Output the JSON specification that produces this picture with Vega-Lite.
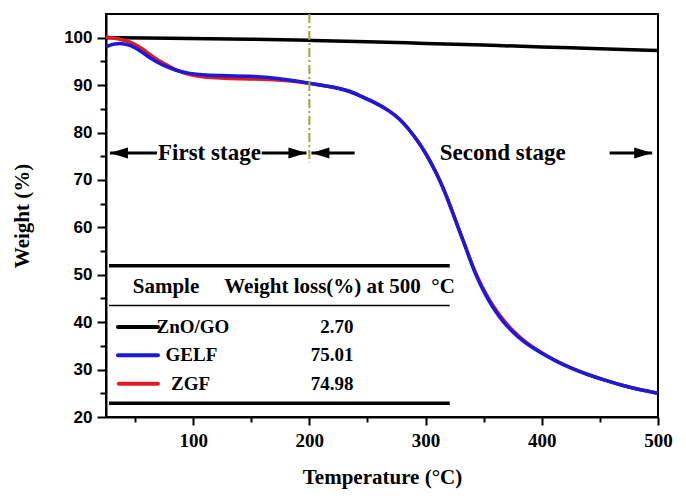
{
  "$schema": "https://vega.github.io/schema/vega-lite/v6.json",
  "width": 552,
  "height": 403,
  "autosize": "none",
  "padding": {"left": 106, "top": 14, "right": 28, "bottom": 82},
  "background": "#ffffff",
  "view": {"stroke": "#000000", "strokeWidth": 2},
  "config": {"font": "Liberation Serif"},
  "datasets": {
    "tga": [
      {"sample": "ZnO/GO", "t": 25, "w": 100.0},
      {"sample": "ZnO/GO", "t": 100, "w": 99.85},
      {"sample": "ZnO/GO", "t": 150, "w": 99.7},
      {"sample": "ZnO/GO", "t": 200, "w": 99.45},
      {"sample": "ZnO/GO", "t": 250, "w": 99.15},
      {"sample": "ZnO/GO", "t": 300, "w": 98.8},
      {"sample": "ZnO/GO", "t": 350, "w": 98.45},
      {"sample": "ZnO/GO", "t": 400, "w": 98.05},
      {"sample": "ZnO/GO", "t": 450, "w": 97.7},
      {"sample": "ZnO/GO", "t": 500, "w": 97.3},
      {"sample": "ZGF", "t": 25, "w": 100.1},
      {"sample": "ZGF", "t": 30, "w": 100.0},
      {"sample": "ZGF", "t": 35, "w": 99.8},
      {"sample": "ZGF", "t": 42, "w": 99.4},
      {"sample": "ZGF", "t": 49, "w": 98.8},
      {"sample": "ZGF", "t": 56, "w": 97.7},
      {"sample": "ZGF", "t": 63, "w": 96.4},
      {"sample": "ZGF", "t": 70, "w": 95.2},
      {"sample": "ZGF", "t": 77, "w": 94.3},
      {"sample": "ZGF", "t": 85, "w": 93.2},
      {"sample": "ZGF", "t": 95, "w": 92.3},
      {"sample": "ZGF", "t": 105, "w": 91.8},
      {"sample": "ZGF", "t": 115, "w": 91.6},
      {"sample": "ZGF", "t": 130, "w": 91.4},
      {"sample": "ZGF", "t": 150, "w": 91.3},
      {"sample": "ZGF", "t": 165, "w": 91.2},
      {"sample": "ZGF", "t": 180, "w": 91.0},
      {"sample": "ZGF", "t": 190, "w": 90.7},
      {"sample": "ZGF", "t": 200, "w": 90.4},
      {"sample": "ZGF", "t": 215, "w": 89.8},
      {"sample": "ZGF", "t": 226, "w": 89.3},
      {"sample": "ZGF", "t": 235, "w": 88.7},
      {"sample": "ZGF", "t": 243, "w": 87.8},
      {"sample": "ZGF", "t": 255, "w": 86.5},
      {"sample": "ZGF", "t": 269, "w": 84.6},
      {"sample": "ZGF", "t": 278, "w": 82.8},
      {"sample": "ZGF", "t": 286, "w": 80.6},
      {"sample": "ZGF", "t": 293, "w": 78.3},
      {"sample": "ZGF", "t": 300, "w": 75.7},
      {"sample": "ZGF", "t": 306, "w": 73.0},
      {"sample": "ZGF", "t": 312, "w": 70.1},
      {"sample": "ZGF", "t": 318, "w": 66.6},
      {"sample": "ZGF", "t": 323, "w": 63.3},
      {"sample": "ZGF", "t": 328, "w": 60.0},
      {"sample": "ZGF", "t": 332, "w": 57.5},
      {"sample": "ZGF", "t": 336, "w": 54.8},
      {"sample": "ZGF", "t": 340, "w": 52.2},
      {"sample": "ZGF", "t": 345, "w": 49.3},
      {"sample": "ZGF", "t": 350, "w": 46.8},
      {"sample": "ZGF", "t": 355, "w": 44.7},
      {"sample": "ZGF", "t": 360, "w": 42.7},
      {"sample": "ZGF", "t": 367, "w": 40.4},
      {"sample": "ZGF", "t": 375, "w": 38.2},
      {"sample": "ZGF", "t": 385, "w": 35.9},
      {"sample": "ZGF", "t": 398, "w": 33.8},
      {"sample": "ZGF", "t": 412, "w": 31.8},
      {"sample": "ZGF", "t": 426, "w": 30.2},
      {"sample": "ZGF", "t": 440, "w": 28.9},
      {"sample": "ZGF", "t": 455, "w": 27.7},
      {"sample": "ZGF", "t": 470, "w": 26.6},
      {"sample": "ZGF", "t": 485, "w": 25.7},
      {"sample": "ZGF", "t": 500, "w": 25.0},
      {"sample": "GELF", "t": 25, "w": 98.1},
      {"sample": "GELF", "t": 30, "w": 98.6},
      {"sample": "GELF", "t": 35, "w": 98.8},
      {"sample": "GELF", "t": 42, "w": 98.7},
      {"sample": "GELF", "t": 50, "w": 98.0},
      {"sample": "GELF", "t": 57, "w": 96.8},
      {"sample": "GELF", "t": 63, "w": 95.7},
      {"sample": "GELF", "t": 70, "w": 94.7},
      {"sample": "GELF", "t": 77, "w": 93.9},
      {"sample": "GELF", "t": 85, "w": 93.1},
      {"sample": "GELF", "t": 95, "w": 92.5},
      {"sample": "GELF", "t": 110, "w": 92.1},
      {"sample": "GELF", "t": 130, "w": 92.0},
      {"sample": "GELF", "t": 150, "w": 91.9},
      {"sample": "GELF", "t": 165, "w": 91.6},
      {"sample": "GELF", "t": 180, "w": 91.2},
      {"sample": "GELF", "t": 190, "w": 90.8},
      {"sample": "GELF", "t": 200, "w": 90.4},
      {"sample": "GELF", "t": 215, "w": 89.8},
      {"sample": "GELF", "t": 226, "w": 89.3},
      {"sample": "GELF", "t": 235, "w": 88.7},
      {"sample": "GELF", "t": 243, "w": 87.8},
      {"sample": "GELF", "t": 255, "w": 86.5},
      {"sample": "GELF", "t": 269, "w": 84.6},
      {"sample": "GELF", "t": 278, "w": 82.8},
      {"sample": "GELF", "t": 286, "w": 80.6},
      {"sample": "GELF", "t": 293, "w": 78.3},
      {"sample": "GELF", "t": 300, "w": 75.7},
      {"sample": "GELF", "t": 306, "w": 73.0},
      {"sample": "GELF", "t": 312, "w": 70.1},
      {"sample": "GELF", "t": 318, "w": 66.6},
      {"sample": "GELF", "t": 323, "w": 63.3},
      {"sample": "GELF", "t": 328, "w": 60.0},
      {"sample": "GELF", "t": 332, "w": 57.4},
      {"sample": "GELF", "t": 336, "w": 54.7},
      {"sample": "GELF", "t": 340, "w": 52.0},
      {"sample": "GELF", "t": 345, "w": 49.0},
      {"sample": "GELF", "t": 350, "w": 46.5},
      {"sample": "GELF", "t": 355, "w": 44.3},
      {"sample": "GELF", "t": 360, "w": 42.3},
      {"sample": "GELF", "t": 367, "w": 40.0},
      {"sample": "GELF", "t": 375, "w": 37.9},
      {"sample": "GELF", "t": 385, "w": 35.7},
      {"sample": "GELF", "t": 398, "w": 33.7},
      {"sample": "GELF", "t": 412, "w": 31.8},
      {"sample": "GELF", "t": 426, "w": 30.2},
      {"sample": "GELF", "t": 440, "w": 28.9},
      {"sample": "GELF", "t": 455, "w": 27.7},
      {"sample": "GELF", "t": 470, "w": 26.6},
      {"sample": "GELF", "t": 485, "w": 25.7},
      {"sample": "GELF", "t": 500, "w": 25.0}
    ],
    "divider": [{"t": 200, "w": 105, "w2": 73.7}],
    "arrowLines": [
      {"t": 28.4, "t2": 68.9, "w": 75.7},
      {"t": 159, "t2": 197.5, "w": 75.7},
      {"t": 201.8, "t2": 239, "w": 75.7},
      {"t": 458.4, "t2": 495, "w": 75.7}
    ],
    "arrowHeads": [
      {"t": 28.4, "w": 75.7, "dir": "left"},
      {"t": 197.5, "w": 75.7, "dir": "right"},
      {"t": 201.8, "w": 75.7, "dir": "left"},
      {"t": 495, "w": 75.7, "dir": "right"}
    ],
    "stages": [
      {"t": 114, "w": 75.7, "label": "First stage"},
      {"t": 366.4, "w": 75.7, "label": "Second stage"}
    ],
    "tableThick": [
      {"t": 27.6, "t2": 320.8, "w": 51.9},
      {"t": 27.6, "t2": 320.8, "w": 22.9}
    ],
    "tableThin": [{"t": 27.6, "t2": 320.8, "w": 43.5}],
    "keys": [
      {"sample": "ZnO/GO", "t": 35.3, "t2": 69.7, "w": 39.0},
      {"sample": "GELF", "t": 35.3, "t2": 69.7, "w": 33.0},
      {"sample": "ZGF", "t": 36, "t2": 69.7, "w": 27.0}
    ],
    "header": [
      {"t": 76.6, "w": 47.4, "label": "Sample"},
      {"t": 226, "w": 47.4, "label": "Weight loss(%) at 500 \u00a0°C"}
    ],
    "names": [
      {"t": 99.8, "w": 39.0, "label": "ZnO/GO"},
      {"t": 98.5, "w": 33.0, "label": "GELF"},
      {"t": 97.7, "w": 27.0, "label": "ZGF"}
    ],
    "losses": [
      {"t": 238, "w": 39.0, "label": "2.70"},
      {"t": 238, "w": 33.0, "label": "75.01"},
      {"t": 238, "w": 27.0, "label": "74.98"}
    ]
  },
  "encoding": {
    "x": {
      "field": "t",
      "type": "quantitative",
      "scale": {"domain": [25, 500], "nice": false, "zero": false},
      "axis": {
        "title": "Temperature (°C)",
        "values": [50, 100, 150, 200, 250, 300, 350, 400, 450, 500],
        "labelExpr": "datum.value % 100 === 0 ? datum.label : ''",
        "grid": false,
        "domainColor": "#000000",
        "domainWidth": 2,
        "tickColor": "#000000",
        "tickWidth": 2,
        "tickSize": {"condition": {"test": "datum.value % 100 === 0", "value": 8}, "value": 5},
        "labelFont": "Liberation Serif",
        "labelFontWeight": "bold",
        "labelFontSize": 19,
        "labelColor": "#000000",
        "labelPadding": 6,
        "labelFlush": false,
        "labelOverlap": false,
        "titleFont": "Liberation Serif",
        "titleFontWeight": "bold",
        "titleFontSize": 21,
        "titleColor": "#000000",
        "titlePadding": 16
      }
    },
    "y": {
      "field": "w",
      "type": "quantitative",
      "scale": {"domain": [20, 105], "nice": false, "zero": false},
      "axis": {
        "title": "Weight (%)",
        "values": [20, 25, 30, 35, 40, 45, 50, 55, 60, 65, 70, 75, 80, 85, 90, 95, 100],
        "labelExpr": "datum.value % 10 === 0 ? datum.label : ''",
        "grid": false,
        "domainColor": "#000000",
        "domainWidth": 2,
        "tickColor": "#000000",
        "tickWidth": 2,
        "tickSize": {"condition": {"test": "datum.value % 10 === 0", "value": 9}, "value": 6},
        "labelFont": "Liberation Sans",
        "labelFontWeight": "bold",
        "labelFontSize": 17,
        "labelColor": "#000000",
        "labelPadding": 5,
        "labelFlush": false,
        "labelOverlap": false,
        "titleFont": "Liberation Serif",
        "titleFontWeight": "bold",
        "titleFontSize": 21,
        "titleColor": "#000000",
        "titlePadding": 31
      }
    }
  },
  "layer": [
    {
      "data": {"name": "tga"},
      "transform": [{"filter": "datum.sample !== 'GELF'"}],
      "mark": {"type": "line", "strokeWidth": 3.5, "interpolate": "basis"},
      "encoding": {
        "color": {
          "field": "sample",
          "type": "nominal",
          "scale": {"domain": ["ZnO/GO", "GELF", "ZGF"], "range": ["#000000", "#1a1ad8", "#e01b24"]},
          "legend": null
        }
      }
    },
    {
      "data": {"name": "tga"},
      "transform": [{"filter": "datum.sample === 'GELF'"}],
      "mark": {"type": "line", "strokeWidth": 3.5, "interpolate": "basis"},
      "encoding": {
        "color": {"field": "sample", "type": "nominal", "legend": null}
      }
    },
    {
      "data": {"name": "divider"},
      "mark": {"type": "rule", "color": "#a3a336", "strokeWidth": 2, "strokeDash": [9, 3, 2, 3]},
      "encoding": {"y2": {"field": "w2"}}
    },
    {
      "data": {"name": "arrowLines"},
      "mark": {"type": "rule", "color": "#000000", "strokeWidth": 3},
      "encoding": {"x2": {"field": "t2"}}
    },
    {
      "data": {"name": "arrowHeads"},
      "mark": {"type": "point", "filled": true, "color": "#000000", "opacity": 1, "size": 400, "strokeWidth": 0},
      "encoding": {
        "shape": {
          "field": "dir",
          "type": "nominal",
          "scale": {"domain": ["left", "right"], "range": ["M0,0L1.8,-0.55L1.8,0.55Z", "M0,0L-1.8,-0.55L-1.8,0.55Z"]},
          "legend": null
        }
      }
    },
    {
      "data": {"name": "stages"},
      "mark": {"type": "text", "font": "Liberation Serif", "fontWeight": "bold", "fontSize": 23, "baseline": "middle", "align": "center", "color": "#000000"},
      "encoding": {"text": {"field": "label"}}
    },
    {
      "data": {"name": "tableThick"},
      "mark": {"type": "rule", "color": "#000000", "strokeWidth": 3.5},
      "encoding": {"x2": {"field": "t2"}}
    },
    {
      "data": {"name": "tableThin"},
      "mark": {"type": "rule", "color": "#000000", "strokeWidth": 1.5},
      "encoding": {"x2": {"field": "t2"}}
    },
    {
      "data": {"name": "keys"},
      "mark": {"type": "rule", "strokeWidth": 4, "strokeCap": "round"},
      "encoding": {
        "x2": {"field": "t2"},
        "color": {"field": "sample", "type": "nominal", "legend": null}
      }
    },
    {
      "data": {"name": "header"},
      "mark": {"type": "text", "font": "Liberation Serif", "fontWeight": "bold", "fontSize": 21, "baseline": "middle", "align": "center", "color": "#000000"},
      "encoding": {"text": {"field": "label"}}
    },
    {
      "data": {"name": "names"},
      "mark": {"type": "text", "font": "Liberation Serif", "fontWeight": "bold", "fontSize": 19, "baseline": "middle", "align": "center", "color": "#000000"},
      "encoding": {"text": {"field": "label"}}
    },
    {
      "data": {"name": "losses"},
      "mark": {"type": "text", "font": "Liberation Serif", "fontWeight": "bold", "fontSize": 19, "baseline": "middle", "align": "right", "color": "#000000"},
      "encoding": {"text": {"field": "label"}}
    }
  ]
}
